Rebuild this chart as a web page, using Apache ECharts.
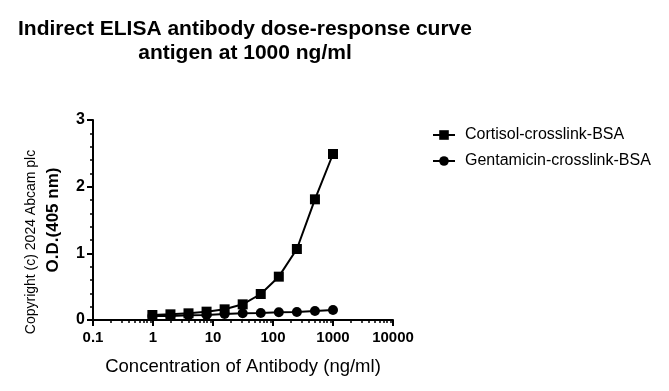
<!DOCTYPE html>
<html><head><meta charset="utf-8">
<script src="https://cdn.jsdelivr.net/npm/echarts@6/dist/echarts.min.js"></script>
<style>html,body{margin:0;padding:0;background:#fff}#c{width:669px;height:391px}</style>
</head><body><div id="c"></div>
<script>
const concentrations = [1000, 500, 250, 125, 62.5, 31.25, 15.625, 7.8125, 3.90625, 1.953125, 0.9765625];
const cortisol = [2.49, 1.81, 1.065, 0.65, 0.39, 0.235, 0.16, 0.125, 0.10, 0.085, 0.075];
const gentamicin = [0.15, 0.135, 0.12, 0.115, 0.105, 0.10, 0.09, 0.075, 0.07, 0.06, 0.06];
const xMinorTicks = [0.2,0.3,0.4,0.5,0.6,0.7,0.8,0.9,2,3,4,5,6,7,8,9,20,30,40,50,60,70,80,90,200,300,400,500,600,700,800,900,2000,3000,4000,5000,6000,7000,8000,9000];
const yTicks = [0, 1, 2, 3];

const font = 'Liberation Sans, Arial, sans-serif';
const chart = echarts.init(document.getElementById('c'));
const pairs = a => concentrations.map((c, i) => [c, a[i]]);
chart.setOption({
  animation: false,
  title: {
    text: 'Indirect ELISA antibody dose-response curve\nantigen at 1000 ng/ml',
    left: 240, top: 12, textAlign: 'center',
    textStyle: {fontFamily: font, fontSize: 21, fontWeight: 'bold', color: '#000', lineHeight: 24}
  },
  legend: {
    orient: 'vertical', left: 427, top: 122, itemGap: 10,
    itemWidth: 22, itemHeight: 12,
    textStyle: {fontFamily: font, fontSize: 16, color: '#000', padding: [0, 0, 0, 5]},
    data: ['Cortisol-crosslink-BSA', 'Gentamicin-crosslink-BSA']
  },
  graphic: [{
    type: 'text', x: 31, y: 242, rotation: Math.PI / 2,
    style: {text: 'Copyright (c) 2024 Abcam plc', fontFamily: font, fontSize: 14, fill: '#000', align: 'center', verticalAlign: 'middle'}
  }],
  grid: {left: 93, right: 276, top: 120, bottom: 71},
  xAxis: [{
    type: 'log', min: 0.1, max: 10000, logBase: 10,
    axisLine: {show: true, lineStyle: {color: '#000', width: 2}},
    axisTick: {show: true, length: 6, lineStyle: {color: '#000', width: 2}},
    splitLine: {show: false},
    axisLabel: {fontFamily: font, fontSize: 15, fontWeight: 'bold', color: '#000', margin: 10,
      formatter: v => String(v)},
    name: 'Concentration of Antibody (ng/ml)', nameLocation: 'middle', nameGap: 37,
    nameTextStyle: {fontFamily: font, fontSize: 18.5, color: '#000'}
  }, {
    type: 'log', min: 0.1, max: 10000, logBase: 10, position: 'bottom',
    axisLine: {show: false},
    axisTick: {show: true, length: 3, customValues: xMinorTicks, lineStyle: {color: '#000', width: 1.5}},
    axisLabel: {show: false}, splitLine: {show: false}
  }],
  yAxis: {
    type: 'value', min: 0, max: 3, interval: 1,
    axisLine: {show: true, lineStyle: {color: '#000', width: 2}},
    axisTick: {show: true, length: 6, lineStyle: {color: '#000', width: 2}},
    minorTick: {show: true, splitNumber: 5, length: 3, lineStyle: {color: '#000', width: 1.5}},
    splitLine: {show: false},
    axisLabel: {fontFamily: font, fontSize: 16, fontWeight: 'bold', color: '#000', margin: 8,
      formatter: v => yTicks.includes(v) ? String(v) : ''},
    name: 'O.D.(405 nm)', nameLocation: 'middle', nameGap: 31, nameRotate: 90,
    nameTextStyle: {fontFamily: font, fontSize: 17, fontWeight: 'bold', color: '#000'}
  },
  series: [{
    name: 'Cortisol-crosslink-BSA', type: 'line', data: pairs(cortisol),
    symbol: 'rect', symbolSize: 10, color: '#000',
    lineStyle: {color: '#000', width: 2}, itemStyle: {color: '#000'}
  }, {
    name: 'Gentamicin-crosslink-BSA', type: 'line', data: pairs(gentamicin),
    symbol: 'circle', symbolSize: 10, color: '#000',
    lineStyle: {color: '#000', width: 2}, itemStyle: {color: '#000'}
  }]
});
</script></body></html>
